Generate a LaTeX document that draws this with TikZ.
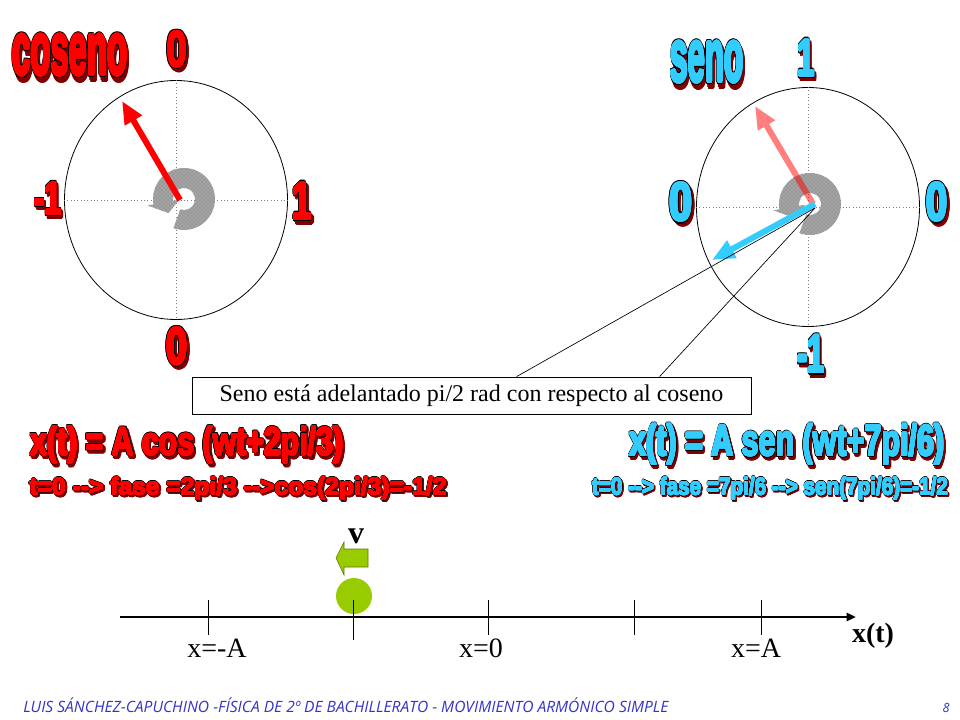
\documentclass[tikz,border=0pt]{standalone}
\usepackage{fontspec}
\setmainfont{Liberation Serif}
\newfontfamily\impactfont{Liberation Sans}
\newfontfamily\footfont{Open Sans}
\usepackage{graphicx}
\usepackage{contour}
\contourlength{0.7pt}
\usetikzlibrary{arrows.meta,patterns,shapes.geometric}

\newlength\pxu
\setlength\pxu{0.75pt}

\definecolor{shadowred}{RGB}{128,0,0}
\definecolor{skycyan}{RGB}{51,204,255}
\definecolor{ballgreen}{RGB}{153,204,0}
\definecolor{footblue}{RGB}{51,51,204}

% heavy outlined poster text with a dark red drop shadow, squeezed to W x H pixels
\newcommand\fancytext[4]{\resizebox*{#2\pxu}{#3\pxu}{\impactfont\bfseries\fontsize{30}{30}\selectfont
  \rlap{\hspace{1.8pt}\raisebox{-1.8pt}{\contourlength{1.4pt}\color{shadowred}\contour{shadowred}{#4}}}%
  \rlap{\contourlength{1.4pt}\color{black}\contour{black}{#4}}%
  {\contourlength{0.7pt}\color{#1}\contour{#1}{#4}}}}

\tikzset{
  dial/.style={draw, ellipse, line width=0.6pt, inner sep=0pt,
    minimum width=223\pxu, minimum height=239\pxu},
  axisdot/.style={gray, dotted, line width=0.5pt},
  phasor/.style={line width=4.5pt, -{Triangle[length=17pt,width=14pt]}},
  ringfill/.style={preaction={fill=black!35}, pattern=crosshatch dots, pattern color=black!60},
  notebox/.style={draw, fill=white, line width=0.6pt, inner sep=0pt,
    minimum width=559\pxu, minimum height=37\pxu, font=\fontsize{18}{20}\selectfont},
  leader/.style={line width=0.5pt},
  tick/.style={line width=0.6pt},
  poslbl/.style={anchor=base, font=\fontsize{21}{24}\selectfont},
}

\newcommand\spinring{%
  \path[ringfill] (-110:31) arc[start angle=-110, end angle=190, radius=31]
    -- (190:37) -- (222:21) -- (190:5) -- (190:11)
    arc[start angle=190, end angle=-110, radius=11] -- cycle;}

\begin{document}
\begin{tikzpicture}[x=0.75pt, y=-0.75pt]
\fill[white] (0,0) rectangle (960,720);
\useasboundingbox (0,0) rectangle (960,720);

% cosine dial
\node[dial] (cosDial) at (176,200) {};
\draw[axisdot] (cosDial.west) -- (cosDial.east);
\draw[axisdot] (cosDial.north) -- (cosDial.south);
\begin{scope}[shift={(184,199)}, yscale=-1]
  \spinring
\end{scope}
\coordinate (cosBase) at (180,200);
\coordinate (cosTip) at (122,101);
\draw[phasor, red] (cosBase) -- (cosTip);

\node[inner sep=0] (cosName) at (70,59) {\fancytext{red}{115}{48}{coseno}};
\node[inner sep=0] (cosTop) at (177,52) {\fancytext{red}{20}{41}{0}};
\node[inner sep=0] (cosLeft) at (48,201) {\fancytext{red}{27}{37}{-1}};
\node[inner sep=0] (cosRight) at (302,204) {\fancytext{red}{19}{42}{1}};
\node[inner sep=0] (cosBottom) at (177,349) {\fancytext{red}{21}{42}{0}};

% sine dial
\node[dial] (senDial) at (808,207) {};
\draw[axisdot] (senDial.west) -- (senDial.east);
\draw[axisdot] (senDial.north) -- (senDial.south);
\begin{scope}[shift={(810,204)}, yscale=-1]
  \spinring
\end{scope}
\coordinate (senBase) at (813,204);
\coordinate (senTip) at (755,106);
\coordinate (cyanBase) at (815,204);
\coordinate (cyanTip) at (712,260);
\begin{scope}[transparency group, opacity=0.5]
  \draw[phasor, red] (senBase) -- (senTip);
\end{scope}
\draw[phasor, skycyan] (cyanBase) -- (cyanTip);

\node[inner sep=0] (senName) at (707,66) {\fancytext{skycyan}{73}{48}{seno}};
\node[inner sep=0] (senTop) at (806,61) {\fancytext{skycyan}{17}{42}{1}};
\node[inner sep=0] (senLeft) at (681,205) {\fancytext{skycyan}{23}{44}{0}};
\node[inner sep=0] (senRight) at (937,205) {\fancytext{skycyan}{21}{44}{0}};
\node[inner sep=0] (senBottom) at (811,357) {\fancytext{skycyan}{27}{43}{-1}};

% callout
\coordinate (hub) at (815,208);
\node[notebox] (note) at (471.5,395.5) {Seno está adelantado pi/2 rad con respecto al coseno};
\draw[leader] ([xshift=325\pxu]note.north west) -- (hub);
\draw[leader] ([xshift=468\pxu]note.north west) -- (hub);

% equations
\node[inner sep=0] (cosEq) at (187,447) {\fancytext{red}{313}{41}{x(t) = A cos (wt+2pi/3)}};
\node[inner sep=0] (cosPhase) at (238,490) {\fancytext{red}{417}{25}{t=0 -{}-> fase =2pi/3 -{}->cos(2pi/3)=-1/2}};
\node[inner sep=0] (senEq) at (787,447) {\fancytext{skycyan}{315}{45}{x(t) = A sen (wt+7pi/6)}};
\node[inner sep=0] (senPhase) at (770,490) {\fancytext{skycyan}{356}{25}{t=0 -{}-> fase =7pi/6 -{}-> sen(7pi/6)=-1/2}};

% axis with the moving body
\coordinate (axStart) at (120,617);
\coordinate (axEnd) at (856,617);
\draw[line width=2.2pt, -{Triangle[length=7pt,width=6pt]}] (axStart) -- (axEnd);
\fill[ballgreen] (354,596) circle[radius=18];
\foreach \tx in {208,488,634,761}
  \draw[tick] (\tx,600) -- (\tx,635);
\draw[tick] (353,600) -- (353,640);
\fill[ballgreen, draw=ballgreen!60!black, line width=0.4pt]
  (336,558) -- (344,542) -- (344,549) -- (368,549) -- (368,567) -- (344,567) -- (344,575) -- cycle;
\node[font=\fontsize{24}{26}\selectfont\bfseries] (vel) at (356,536) {v};

\node[poslbl] (xneg) at (217,657) {x=-A};
\node[poslbl] (xzero) at (481,657) {x=0};
\node[poslbl] (xpos) at (756,657) {x=A};
\node[anchor=base, font=\fontsize{21}{24}\selectfont\bfseries] (xt) at (873,642) {x(t)};

% footer
\node[anchor=base west, inner sep=0, footblue] (foot) at (23,712)
  {\resizebox{645\pxu}{!}{\footfont\itshape LUIS SÁNCHEZ-CAPUCHINO -FÍSICA DE 2º DE BACHILLERATO - MOVIMIENTO ARMÓNICO SIMPLE}};
\node[anchor=base, inner sep=0, footblue, font=\footfont\itshape\fontsize{9.5}{11}\selectfont] (pageno) at (946,712) {8};
\end{tikzpicture}
\end{document}
